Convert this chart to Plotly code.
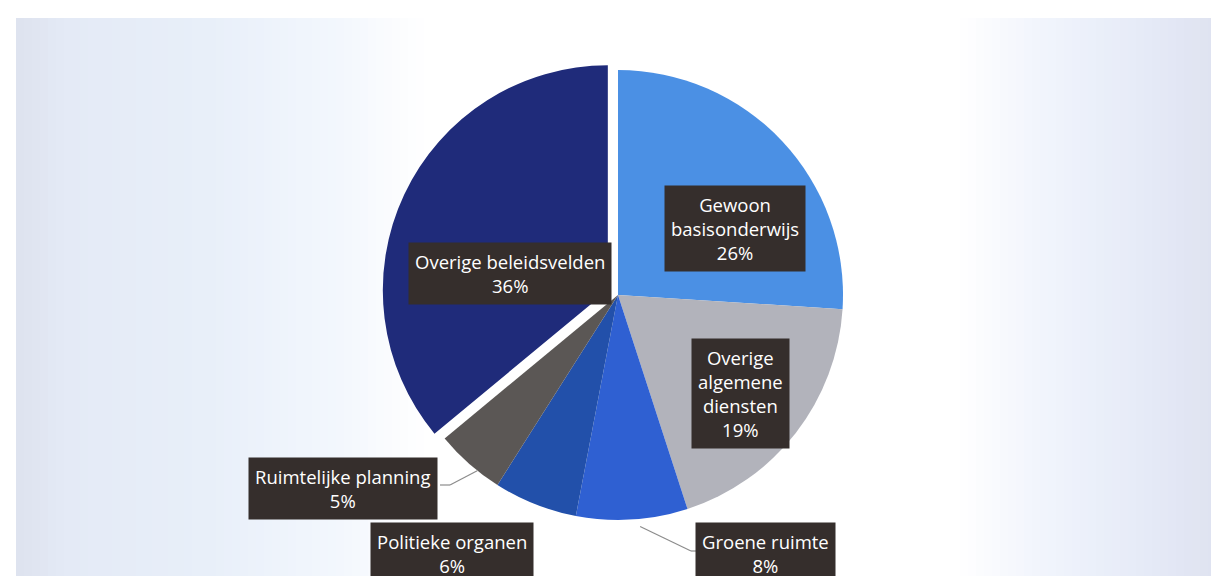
import math
import plotly.graph_objects as go

# ---- data ----
categories = ["Gewoon basisonderwijs", "Overige algemene diensten", "Groene ruimte",
              "Politieke organen", "Ruimtelijke planning", "Overige beleidsvelden"]
label_text = ["Gewoon<br>basisonderwijs", "Overige<br>algemene<br>diensten", "Groene ruimte",
              "Politieke organen", "Ruimtelijke planning", "Overige beleidsvelden"]
values = [26, 19, 8, 6, 5, 36]

# ---- style ----
colors = ["#4b90e4", "#b2b3bb", "#2f60d2", "#2250aa", "#5b5755", "#1f2b7a"]
pulls = [0, 0, 0, 0, 0, 0.05]
W, H = 1219, 576
CX, CY, R = 618, 294, 225           # desired visual centre / radius (pixels)
SHIFT_X, SHIFT_Y = -8, -7           # compensation for plotly's pull re-centering
# label box centres in pixels
label_pos = [(727, 220), (732, 385), (757, 545), (444, 545), (335, 480), (502, 265)]
# leader-line points (pixel) after the slice point
leaders = {2: [(683, 543), (690, 543)], 4: [(442, 477), (432, 477)]}

maxpull = max(pulls)
half = R * (1 + maxpull)
dcy = CY + SHIFT_Y
dcx = CX + SHIFT_X
dom_y = [1 - (dcy + half) / H, 1 - (dcy - half) / H]
dom_x = [(dcx - 380) / W, (dcx + 380) / W]

fig = go.Figure()
fig.add_trace(go.Pie(
    labels=categories, values=values, sort=False, direction="clockwise", rotation=0,
    marker=dict(colors=colors, line=dict(width=0)), pull=pulls,
    textinfo="none", hoverinfo="label+percent", showlegend=False,
    domain=dict(x=dom_x, y=dom_y),
))

def px(x, y):
    return x / W, 1 - y / H

# background gradient panel
stops = [(8, (221, 226, 238)), (60, (228, 234, 246)), (200, (232, 239, 249)), (330, (243, 247, 253)),
         (420, (255, 255, 255)), (950, (255, 255, 255)), (1040, (240, 244, 252)),
         (1140, (229, 234, 247)), (1219, (222, 225, 239))]
def col_at(x):
    for (x0, c0), (x1, c1) in zip(stops[:-1], stops[1:]):
        if x0 <= x <= x1:
            t = (x - x0) / (x1 - x0)
            return "rgb(%d,%d,%d)" % tuple(round(a + (b - a) * t) for a, b in zip(c0, c1))
    return "rgb(255,255,255)"

shapes = []
step = 8
x = 8
while x < W:
    x2 = min(x + step, W)
    shapes.append(dict(type="rect", xref="paper", yref="paper", x0=x / W, x1=x2 / W,
                       y0=0, y1=1 - 10 / H, fillcolor=col_at((x + x2) / 2), line=dict(width=0),
                       layer="below"))
    x = x2

# leader lines from slice mid-points
total = sum(values)
cum = 0
mids = []
for v in values:
    mids.append((cum + v / 2) / total * 2 * math.pi)
    cum += v
for i, pts in leaders.items():
    a = mids[i]
    sx, sy = CX + R * math.sin(a), CY - R * math.cos(a)
    path_pts = [(sx, sy)] + pts
    for p0, p1 in zip(path_pts[:-1], path_pts[1:]):
        x0, y0 = px(*p0)
        x1, y1 = px(*p1)
        shapes.append(dict(type="line", xref="paper", yref="paper", x0=x0, y0=y0, x1=x1, y1=y1,
                           line=dict(color="#8c8c8c", width=1.2), layer="above"))

annotations = []
for i, (txt, v) in enumerate(zip(label_text, values)):
    ax, ay = px(*label_pos[i])
    annotations.append(dict(
        x=ax, y=ay, xref="paper", yref="paper", xanchor="center", yanchor="middle",
        text="%s<br>%d%%" % (txt, round(v / total * 100)), showarrow=False,
        font=dict(family="Open Sans", size=18.5, color="white"),
        bgcolor="#352e2c", borderpad=6, align="center",
    ))

fig.update_layout(
    width=W, height=H, margin=dict(l=0, r=0, t=0, b=0),
    paper_bgcolor="white", plot_bgcolor="white",
    shapes=shapes, annotations=annotations,
)
fig.write_html("out.html")
